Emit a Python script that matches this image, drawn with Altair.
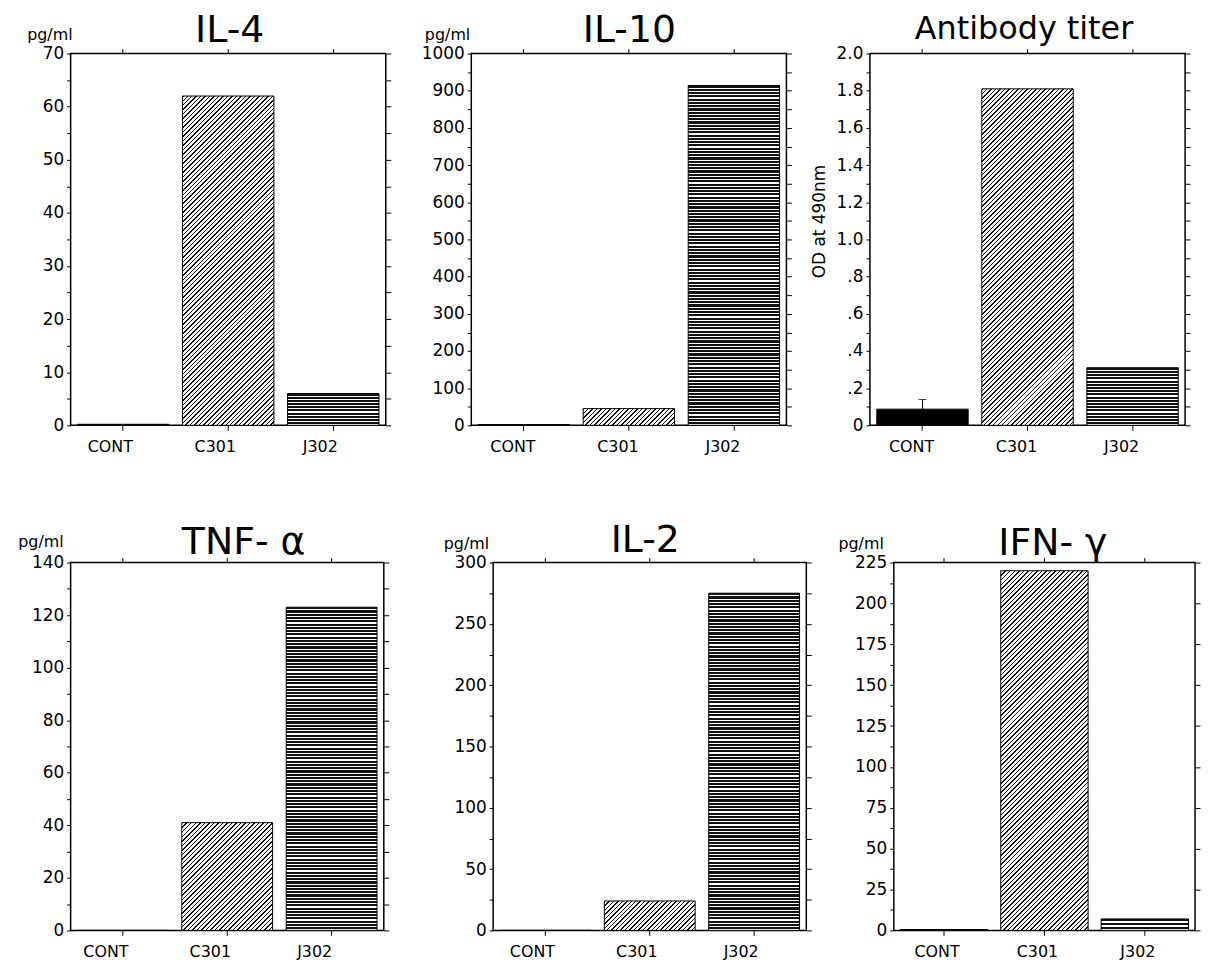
import json
import math
import altair as alt
import pandas as pd

# ---------------- data ----------------
categories = ["CONT", "C301", "J302"]
panel_titles = ["IL-4", "IL-10", "Antibody titer", "TNF- α", "IL-2", "IFN- γ"]
il4 = [0.2, 62.0, 6.0]
il10 = [2.0, 45.0, 914.0]
antibody = [0.087, 1.81, 0.31]
antibody_err_cont = [0.087, 0.139]
tnf = [0.0, 41.0, 123.0]
il2 = [0.0, 24.0, 275.0]
ifn = [0.5, 220.0, 7.0]
y_max = [70, 1000, 2.0, 140, 300, 225]
y_label_step = [10, 100, 0.2, 20, 50, 25]
y_minor_step = [5, 50, 0.1, 10, 25, 12.5]
right_tick_step = [5, 50, 0.1, 10, 25, 25]
antibody_tick_labels = ["0", ".2", ".4", ".6", ".8", "1.0", "1.2", "1.4", "1.6", "1.8", "2.0"]
unit_label = "pg/ml"
antibody_axis_title = "OD at 490nm"
series = [il4, il10, antibody, tnf, il2, ifn]

# ---------------- layout / style ----------------
FONT = "DejaVu Sans"
P_INNER = 0.13
layout = [
    dict(w=317, h=374, L=62, loff=-13, unit=(2, -14), tsize=38, tx=160, ty=-12),
    dict(w=317, h=374, L=63, loff=-11, unit=(-1, -14), tsize=38, tx=159, ty=-12),
    dict(w=317, h=374, L=61, loff=-11, unit=None, tsize=32, tx=155, ty=-15),
    dict(w=315, h=370, L=59, loff=-17, unit=(-7, -16), tsize=38, tx=174, ty=-9),
    dict(w=315, h=370, L=87, loff=-13, unit=(-4, -14), tsize=38, tx=153, ty=-11),
    dict(w=303, h=370, L=65, loff=-7, unit=(-10, -14), tsize=38, tx=160, ty=-8),
]


def tick_list(step, top):
    n = int(round(top / step))
    return [round(k * step, 6) for k in range(n + 1)]


def stripe_stops(n, dark):
    stops = []
    for k in range(n):
        a = round(k / n, 5)
        b = round((k + dark) / n, 5)
        c = round((k + 1) / n, 5)
        stops += [
            {"offset": a, "color": "#111111"},
            {"offset": b, "color": "#111111"},
            {"offset": b, "color": "#ffffff"},
            {"offset": c, "color": "#ffffff"},
        ]
    return stops


def horizontal_hatch(h, period=3.3, dark=0.65):
    n = max(1, int(round(h / period)))
    return {"gradient": "linear", "x1": 0, "y1": 0, "x2": 0, "y2": 1,
            "stops": stripe_stops(n, dark)}


def diagonal_hatch(w, h, period=3.2, dark=0.33):
    h = max(h, 1.0)
    c = (w + h) / (w * w + h * h)
    n = max(1, int(round((w + h) / math.sqrt(2) / period)))
    return {"gradient": "linear", "x1": 0, "y1": 0,
            "x2": round(c * w, 6), "y2": round(c * h, 6),
            "stops": stripe_stops(n, dark)}


def make_panel(i):
    vals = series[i]
    lay = layout[i]
    W, H = lay["w"], lay["h"]
    df = pd.DataFrame({"group": categories, "value": vals})
    xs = alt.Scale(domain=categories, paddingInner=P_INNER, paddingOuter=P_INNER / 2)
    ys = alt.Scale(domain=[0, y_max[i]], nice=False, zero=True)

    if i == 2:
        lab_js = json.dumps(antibody_tick_labels)
        label_expr = ("abs(datum.value*5 - round(datum.value*5)) < 1e-6 ? "
                      f"{lab_js}[round(datum.value*5)] : ''")
    else:
        st = y_label_step[i]
        label_expr = (f"abs(datum.value/{st} - round(datum.value/{st})) < 1e-6 ? "
                      "format(datum.value, 'd') : ''")

    x_axis = alt.Axis(title=None, orient="bottom", labelAngle=0, domain=False,
                      ticks=True, tickSize=5, tickColor="black", labelPadding=8,
                      labelOffset=lay["loff"], labelFontSize=16, labelFont=FONT,
                      labelColor="black", grid=False)
    y_axis = alt.Axis(title=None, orient="left", values=tick_list(y_minor_step[i], y_max[i]),
                      labelExpr=label_expr, tickSize=4, tickColor="black", labelPadding=3,
                      domain=False, minExtent=lay["L"], maxExtent=lay["L"],
                      labelFontSize=17, labelFont=FONT, labelColor="black", grid=False)
    x_enc = alt.X("group:N", sort=categories, scale=xs, axis=x_axis)

    w_bar = W / 3 * (1 - P_INNER)
    inner = []
    for j, g in enumerate(categories):
        h_bar = vals[j] / y_max[i] * H
        if g == "CONT":
            fill = "#000000"
        elif g == "C301":
            fill = diagonal_hatch(w_bar, h_bar)
        else:
            fill = horizontal_hatch(h_bar)
        inner.append(
            alt.Chart(df).transform_filter(alt.datum.group == g)
            .mark_bar(fill=fill, stroke="black", strokeWidth=1)
            .encode(x=x_enc, y=alt.Y("value:Q", scale=ys, axis=y_axis))
        )
    if i == 2:
        edf = pd.DataFrame({"group": ["CONT"], "lo": [antibody_err_cont[0]],
                            "hi": [antibody_err_cont[1]]})
        inner.append(alt.Chart(edf).mark_rule(color="black", strokeWidth=1).encode(
            x=x_enc, y=alt.Y("lo:Q", scale=ys, axis=y_axis), y2="hi:Q"))
        inner.append(alt.Chart(edf).mark_tick(color="black", size=8, thickness=1).encode(
            x=x_enc, y=alt.Y("hi:Q", scale=ys, axis=y_axis)))

    ghost = alt.Chart(df).mark_point(opacity=0).encode(
        x=alt.X("group:N", sort=categories, scale=xs,
                axis=alt.Axis(title=None, orient="top", labels=False, domain=False,
                              tickSize=5, tickColor="black", minExtent=5, maxExtent=5,
                              grid=False)),
        y=alt.Y("value:Q", scale=ys,
                axis=alt.Axis(title=None, orient="right", labels=False, domain=False,
                              values=tick_list(right_tick_step[i], y_max[i]),
                              tickSize=5, tickColor="black", minExtent=6, maxExtent=6,
                              grid=False)),
    )

    title_layer = (
        alt.Chart(pd.DataFrame({"t": [panel_titles[i]]}))
        .mark_text(align="center", baseline="alphabetic", fontSize=lay["tsize"],
                   font=FONT, color="black")
        .encode(x=alt.value(lay["tx"]), y=alt.value(lay["ty"]), text="t:N")
    )
    layers = [alt.layer(*inner), ghost, title_layer]
    if lay["unit"] is not None:
        dx, dy = lay["unit"]
        layers.append(
            alt.Chart(pd.DataFrame({"t": [unit_label]}))
            .mark_text(align="right", baseline="alphabetic", fontSize=16, font=FONT,
                       color="black")
            .encode(x=alt.value(dx), y=alt.value(dy), text="t:N")
        )
    else:
        layers.append(
            alt.Chart(pd.DataFrame({"t": [antibody_axis_title]}))
            .mark_text(align="center", baseline="middle", angle=270, fontSize=17,
                       font=FONT, color="black")
            .encode(x=alt.value(-50), y=alt.value(169), text="t:N")
        )

    return alt.layer(*layers).resolve_axis(x="independent", y="independent").properties(
        width=W, height=H)


row1 = alt.hconcat(make_panel(0), make_panel(1), make_panel(2), spacing=15)
row2 = alt.hconcat(make_panel(3), make_panel(4), make_panel(5), spacing=15)
chart = (
    alt.vconcat(row1, row2, spacing=66)
    .properties(padding={"left": 0, "top": 0, "right": 0, "bottom": 0}, background="white")
    .configure_view(stroke="black", strokeWidth=1.5)
)
chart.save("out.html", embed_options={"renderer": "svg", "actions": False})
